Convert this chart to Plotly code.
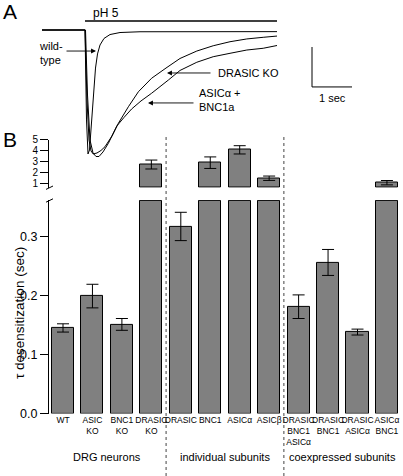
import plotly.graph_objects as go

W, H = 403, 476
FONT = "Liberation Sans, Arial, sans-serif"

# ---------------- Panel A data: normalized current (I / I_peak) vs time (s) ----------------
wt_t = [-1.1, -0.025, 0.0125, 0.05, 0.0875, 0.1375, 0.1875, 0.2375, 0.2875, 0.35, 0.45, 0.6, 0.85, 1.35, 4.775]
wt_i = [0, 0, -0.714, -0.984, -0.952, -0.714, -0.476, -0.302, -0.19, -0.119, -0.067, -0.036, -0.02, -0.014, -0.013]

dko_t = [-1.1, -0.025, 0.025, 0.075, 0.125, 0.18, 0.275, 0.375, 0.475, 0.65, 0.81, 1.06, 1.31, 1.64,
         2.0, 2.35, 2.77, 3.18, 3.6, 4.02, 4.43, 4.775]
dko_i = [0, 0, -0.556, -0.873, -0.960, -0.984, -0.976, -0.956, -0.926, -0.841, -0.740, -0.609, -0.490, -0.383,
         -0.302, -0.226, -0.167, -0.125, -0.093, -0.071, -0.058, -0.048]

ab_t = [-1.1, -0.0125, 0.0375, 0.1, 0.175, 0.25, 0.325, 0.425, 0.56, 0.77, 0.95, 1.14, 1.375, 1.64,
        2.06, 2.35, 2.77, 3.18, 3.6, 4.02, 4.43, 4.775]
ab_i = [0, 0, -0.516, -0.873, -0.976, -1.004, -1.004, -0.968, -0.899, -0.762, -0.694, -0.627, -0.563, -0.502,
        -0.397, -0.321, -0.256, -0.212, -0.185, -0.159, -0.145, -0.123]

ph_on, ph_off = -0.025, 4.775
scale_t = 1.0      # s
scale_i = 0.317    # normalized current

# ---------------- Panel B data ----------------
categories = ["WT", "ASIC<br>KO", "BNC1<br>KO", "DRASIC<br>KO",
              "DRASIC", "BNC1", "ASICα", "ASICβ",
              "DRASIC<br>BNC1<br>ASICα", "DRASIC<br>BNC1", "DRASIC<br>ASICα", "ASICα<br>BNC1"]
tau = [0.145, 0.199, 0.151, 2.70, 0.317, 2.87, 4.05, 1.44, 0.181, 0.256, 0.138, 1.03]
tau_err = [0.007, 0.020, 0.010, 0.41, 0.024, 0.53, 0.38, 0.20, 0.020, 0.022, 0.005, 0.20]
groups = ["DRG neurons", "individual subunits", "coexpressed subunits"]
group_size = 4

LOW_TOP = 0.36     # lower segment is cut here
HIGH_BASE = 0.6    # upper segment starts here
low_ticks = [0.0, 0.1, 0.2, 0.3]
high_ticks = [1, 2, 3, 4, 5]

# ---------------- layout geometry (pixels) ----------------
def pyv(p):
    return 1 - p / H

ax_x = 49
low_dom = [pyv(413.5), pyv(199.9)]
high_dom = [pyv(187.7), pyv(139.5)]
x_dom = [ax_x / W, 1.0]

idx = list(range(len(categories)))
fig = go.Figure()

# lower segment bars
low_vals = [v if v <= LOW_TOP else LOW_TOP for v in tau]
fig.add_trace(go.Bar(x=idx, y=low_vals, width=0.75, marker=dict(color="#808080", line=dict(color="black", width=1)),
                     xaxis="x", yaxis="y", showlegend=False))
lx = [i for i, v in zip(idx, tau) if v <= LOW_TOP]
ly = [v for v in tau if v <= LOW_TOP]
le = [e for v, e in zip(tau, tau_err) if v <= LOW_TOP]
fig.add_trace(go.Scatter(x=lx, y=ly, mode="markers", marker=dict(size=1, opacity=0),
                         error_y=dict(type="data", array=le, color="black", thickness=1, width=6),
                         xaxis="x", yaxis="y", showlegend=False))

# upper segment bars
hx = [i for i, v in zip(idx, tau) if v > LOW_TOP]
hv = [v for v in tau if v > LOW_TOP]
he = [e for v, e in zip(tau, tau_err) if v > LOW_TOP]
fig.add_trace(go.Bar(x=hx, y=[v - HIGH_BASE for v in hv], base=HIGH_BASE, width=0.75,
                     marker=dict(color="#808080", line=dict(color="black", width=1)),
                     error_y=dict(type="data", array=he, color="black", thickness=1, width=6),
                     xaxis="x2", yaxis="y2", showlegend=False))

# panel A traces
for t, i in [(wt_t, wt_i), (dko_t, dko_i), (ab_t, ab_i)]:
    fig.add_trace(go.Scatter(x=t, y=i, mode="lines", line=dict(color="black", width=1),
                             xaxis="x3", yaxis="y3", showlegend=False))

# panel A axis ranges so that 1 s = 40 px and peak = 126 px
t0_px, s_px = 86, 40
base_px, amp_px = 30, 126
xr3 = [(0 - t0_px) / s_px, (W - t0_px) / s_px]
yr3 = [(base_px - H) / amp_px, base_px / amp_px]

fig.update_layout(
    width=W, height=H, margin=dict(l=0, r=0, t=0, b=0, autoexpand=False),
    paper_bgcolor="white", plot_bgcolor="rgba(0,0,0,0)",
    font=dict(family=FONT, color="black"),
    bargap=0,
    xaxis=dict(domain=x_dom, range=[(ax_x - 63) / 29.45, (W - 63) / 29.45], anchor="y", automargin=False,
               tickmode="array", tickvals=idx, ticktext=categories, tickangle=0,
               tickfont=dict(size=8.5), showline=False, ticks="", showgrid=False, zeroline=False),
    yaxis=dict(domain=low_dom, range=[0, 0.362], anchor="x", tickmode="array", automargin=False,
               tickvals=low_ticks, ticktext=["%.1f" % v for v in low_ticks],
               ticks="outside", ticklen=8, tickwidth=1, tickcolor="black",
               showline=True, linecolor="black", linewidth=1, showgrid=False, zeroline=False,
               tickfont=dict(size=12.5)),
    xaxis2=dict(domain=x_dom, matches="x", anchor="y2", visible=False, automargin=False),
    yaxis2=dict(domain=high_dom, range=[0.57, 5.0], anchor="x2", tickmode="array", automargin=False,
                tickvals=high_ticks, ticktext=[str(v) for v in high_ticks],
                ticks="outside", ticklen=8, tickwidth=1, tickcolor="black",
                showline=True, linecolor="black", linewidth=1, showgrid=False, zeroline=False,
                tickfont=dict(size=10)),
    xaxis3=dict(domain=[0, 1], range=xr3, anchor="y3", visible=False, automargin=False),
    yaxis3=dict(domain=[0, 1], range=yr3, anchor="x3", visible=False, automargin=False),
)

shapes = []
# group separators
for k in range(1, len(groups)):
    shapes.append(dict(type="line", xref="x", yref="paper", x0=k * group_size - 0.5, x1=k * group_size - 0.5,
                       y0=0, y1=pyv(137), line=dict(color="#444", width=1, dash="dot")))
# axis break marks
for yc in [187.7, 200.5]:
    shapes.append(dict(type="line", xref="paper", yref="paper", x0=(ax_x - 3) / W, x1=(ax_x + 4) / W,
                       y0=pyv(yc + 1.7), y1=pyv(yc - 1.7), line=dict(color="black", width=1)))
# pH bar
shapes.append(dict(type="line", xref="x3", yref="y3", x0=ph_on, x1=ph_off, y0=9 / amp_px, y1=9 / amp_px,
                   line=dict(color="black", width=1.5)))
# scale bar
sb_t, sb_i = 5.65, -0.452
shapes.append(dict(type="line", xref="x3", yref="y3", x0=sb_t, x1=sb_t + scale_t, y0=sb_i, y1=sb_i,
                   line=dict(color="black", width=1)))
shapes.append(dict(type="line", xref="x3", yref="y3", x0=sb_t, x1=sb_t, y0=sb_i, y1=sb_i + scale_i,
                   line=dict(color="black", width=1)))
fig.update_layout(shapes=shapes)

ann = []
ann.append(dict(text="A", x=1 / W, y=pyv(11), xref="paper", yref="paper", xanchor="left", yanchor="middle",
                showarrow=False, font=dict(size=21)))
ann.append(dict(text="B", x=1 / W, y=pyv(139), xref="paper", yref="paper", xanchor="left", yanchor="middle",
                showarrow=False, font=dict(size=21)))
ann.append(dict(text="pH 5", x=0.51, y=0.135, xref="x3", yref="y3", showarrow=False, font=dict(size=12)))
ann.append(dict(text="1 sec", x=sb_t + scale_t / 2, y=-0.54, xref="x3", yref="y3", showarrow=False,
                font=dict(size=11)))
ann.append(dict(text="wild-<br>type", x=-1.225, y=-0.183, xref="x3", yref="y3", xanchor="left",
                align="left", showarrow=False, font=dict(size=11)))
ann.append(dict(text="DRASIC KO", x=3.25, y=-0.341, xref="x3", yref="y3", xanchor="left",
                showarrow=False, font=dict(size=11)))
ann.append(dict(text="ASICα +<br>BNC1a", x=2.775, y=-0.552, xref="x3", yref="y3", xanchor="left",
                align="left", showarrow=False, font=dict(size=11)))
for hx_, tx_, yv in [(0.25, -0.525, -0.167), (2.025, 3.15, -0.341), (1.55, 2.725, -0.579)]:
    ann.append(dict(text="", x=hx_, y=yv, ax=tx_, ay=yv, xref="x3", yref="y3", axref="x3", ayref="y3",
                    showarrow=True, arrowhead=2, arrowsize=1.1, arrowwidth=0.9, arrowcolor="black"))
ann.append(dict(text="τ desensitization (sec)", x=9.5 / W, y=pyv(313), xref="paper", yref="paper",
                textangle=-90, showarrow=False, font=dict(size=13.5)))
for g, name in enumerate(groups):
    ann.append(dict(text=name, x=g * group_size + (group_size - 1) / 2, y=pyv(465), xref="x", yref="paper",
                    showarrow=False, font=dict(size=11)))
fig.update_layout(annotations=ann)

fig.write_html("out.html", config={"displayModeBar": False},
               post_script="document.body.style.margin='0';document.body.style.overflow='hidden';")
